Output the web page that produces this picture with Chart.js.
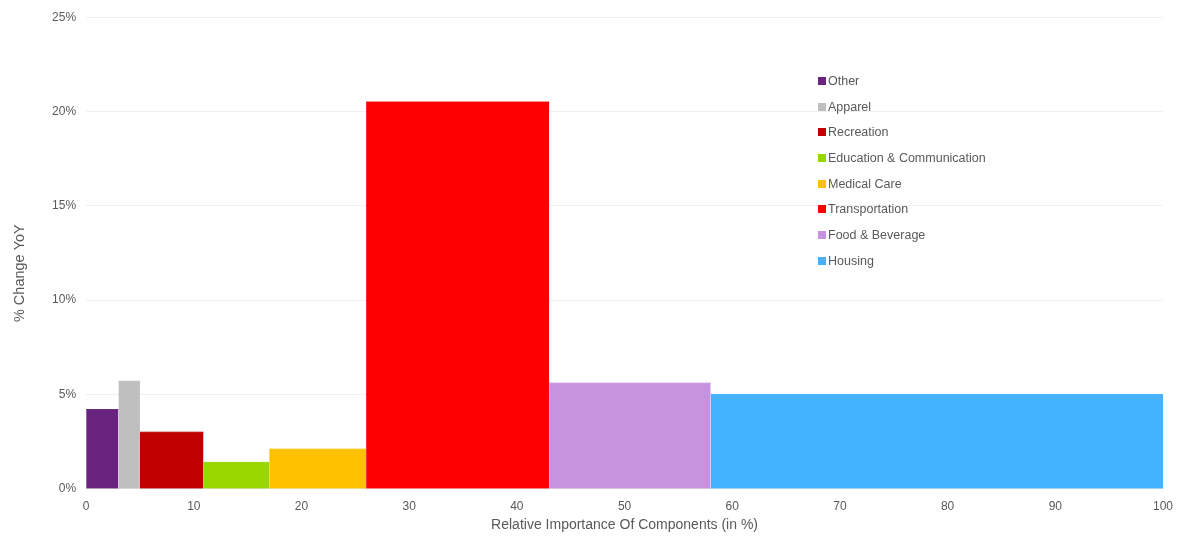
<!DOCTYPE html>
<html>
<head>
<meta charset="utf-8">
<script src="https://cdn.jsdelivr.net/npm/chart.js@4/dist/chart.umd.min.js"></script>
<style>
  html, body { margin: 0; padding: 0; background: #fff; }
  #wrap { position: relative; width: 1190px; height: 536px; }
  #legend { position: absolute; left: 818px; top: 73px; font-family: "Liberation Sans", Arial, sans-serif; font-size: 12.5px; color: #595959; }
  #legend div { height: 25.7px; line-height: 16px; white-space: nowrap; }
  #legend span.box { display: inline-block; width: 8px; height: 8px; margin-right: 2px; vertical-align: 0px; }
</style>
</head>
<body>
<div id="wrap">
  <canvas id="c" width="1190" height="536"></canvas>
  <div id="legend"></div>
</div>
<script>
// Categories (left to right)
const categories = ["Other", "Apparel", "Recreation", "Education & Communication", "Medical Care", "Transportation", "Food & Beverage", "Housing"];
// Relative importance (width of each bar, in %)
const weights = [3.0, 2.0, 5.9, 6.1, 9.0, 17.0, 15.0, 42.0];
// % change YoY (height of each bar)
const changes = [4.2, 5.7, 3.0, 1.4, 2.1, 20.5, 5.6, 5.0];
const colors = ["#68247f", "#bfbfbf", "#c00000", "#99d600", "#ffc000", "#ff0000", "#c793e0", "#44b2ff"];
// Tick settings
const xTicks = [0, 10, 20, 30, 40, 50, 60, 70, 80, 90, 100];
const yTicks = [0, 5, 10, 15, 20, 25];

const datasets = [];
let start = 0;
categories.forEach((name, i) => {
  const end = start + weights[i];
  datasets.push({
    label: name,
    data: [{x: start, y: changes[i]}, {x: end, y: changes[i]}],
    backgroundColor: colors[i],
    borderColor: colors[i],
    borderWidth: 1,
    fill: 'origin',
    pointRadius: 0,
    tension: 0
  });
  start = end;
});

// HTML legend
const leg = document.getElementById('legend');
categories.forEach((name, i) => {
  const d = document.createElement('div');
  d.innerHTML = '<span class="box" style="background:' + colors[i] + '"></span>' + name;
  leg.appendChild(d);
});

const font = { family: '"Liberation Sans", Arial, sans-serif', size: 12 };
new Chart(document.getElementById('c'), {
  type: 'line',
  data: { datasets },
  options: {
    responsive: false,
    animation: false,
    layout: { padding: { left: 7, right: 27, top: 14, bottom: 2 } },
    plugins: { legend: { display: false }, tooltip: { enabled: false } },
    scales: {
      x: {
        type: 'linear', min: 0, max: 100,
        afterBuildTicks: (s) => { s.ticks = xTicks.map(v => ({ value: v })); },
        grid: { display: false, drawTicks: false },
        border: { display: true, color: '#e6e6e6' },
        ticks: { color: '#595959', font, padding: 11, maxRotation: 0 },
        title: { display: true, text: 'Relative Importance Of Components (in %)', color: '#595959', font: { family: font.family, size: 14 }, padding: { top: -8, bottom: 0 } }
      },
      y: {
        min: 0, max: 25,
        afterBuildTicks: (s) => { s.ticks = yTicks.map(v => ({ value: v })); },
        grid: { color: '#f0f0f0', drawTicks: false },
        border: { display: false },
        ticks: { color: '#595959', font, padding: 10, callback: v => v + '%' },
        title: { display: true, text: '% Change YoY          ', color: '#595959', font: { family: font.family, size: 14.5 }, padding: { top: 4, bottom: 13.7 } }
      }
    }
  }
});
</script>
</body>
</html>
